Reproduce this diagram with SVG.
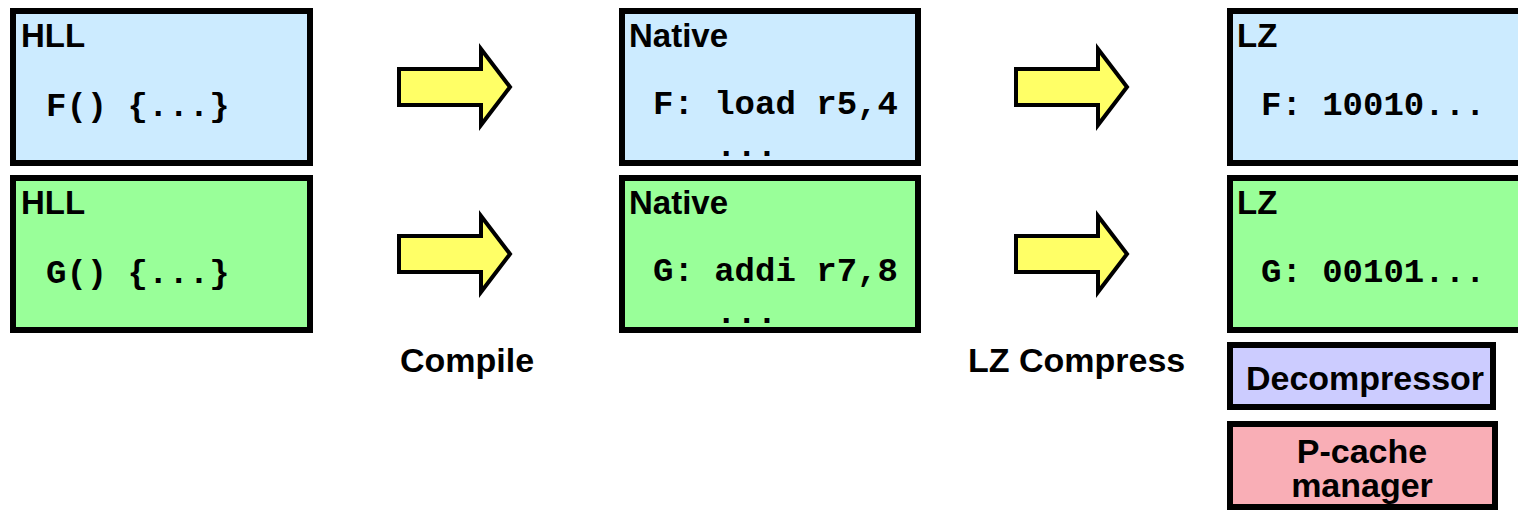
<svg xmlns="http://www.w3.org/2000/svg" width="1518" height="511" viewBox="0 0 1518 511">
<style>
.box{stroke:#000;stroke-width:6}
.blue{fill:#CCEBFF}
.green{fill:#99FF99}
.purple{fill:#CCCCFF}
.pink{fill:#F9AEB6}
.title{font-family:"Liberation Sans",Arial,sans-serif;font-weight:bold;font-size:33px;fill:#000}
.code{font-family:"Liberation Mono","Courier New",monospace;font-weight:bold;font-size:34px;fill:#000}
.label{font-family:"Liberation Sans",Arial,sans-serif;font-weight:bold;font-size:34px;fill:#000}
.arrow{fill:#FFFF66;stroke:#000;stroke-width:4;stroke-linejoin:miter}
</style>
<defs>
<polygon id="arr" points="0,0 82,0 82,-20 111,18 82,56 82,36 0,36"/>
</defs>
<g id="connectors">
<use href="#arr" class="arrow" x="399" y="69"/>
<use href="#arr" class="arrow" x="399" y="236"/>
<use href="#arr" class="arrow" x="1016" y="69"/>
<use href="#arr" class="arrow" x="1016" y="236"/>
</g>
<g id="hll-f">
<rect class="box blue" x="13" y="11" width="297" height="152"/>
<text class="title" x="21" y="47">HLL</text>
<text class="code" x="46" y="116" xml:space="preserve">F() {...}</text>
</g>
<g id="hll-g">
<rect class="box green" x="13" y="178" width="297" height="152"/>
<text class="title" x="21" y="214">HLL</text>
<text class="code" x="46" y="283" xml:space="preserve">G() {...}</text>
</g>
<g id="native-f">
<rect class="box blue" x="622" y="11" width="296" height="152"/>
<text class="title" x="629" y="47">Native</text>
<text class="code" x="653" y="114">F: load r5,4</text>
<text class="code" x="716" y="156">...</text>
</g>
<g id="native-g">
<rect class="box green" x="622" y="178" width="296" height="152"/>
<text class="title" x="629" y="214">Native</text>
<text class="code" x="653" y="281">G: addi r7,8</text>
<text class="code" x="716" y="323">...</text>
</g>
<g id="lz-f">
<rect class="box blue" x="1230" y="11" width="300" height="152"/>
<text class="title" x="1237" y="47">LZ</text>
<text class="code" x="1261" y="115">F: 10010...</text>
</g>
<g id="lz-g">
<rect class="box green" x="1230" y="178" width="300" height="152"/>
<text class="title" x="1237" y="214">LZ</text>
<text class="code" x="1261" y="282">G: 00101...</text>
</g>
<g id="decompressor">
<rect class="box purple" x="1230" y="345" width="263" height="62"/>
<text class="label" x="1365" y="390" text-anchor="middle">Decompressor</text>
</g>
<g id="pcache">
<rect class="box pink" x="1230" y="424" width="265" height="83"/>
<text class="label" x="1362" y="463" text-anchor="middle">P-cache</text>
<text class="label" x="1362" y="497" text-anchor="middle">manager</text>
</g>
<g id="labels">
<text class="label" x="400" y="372">Compile</text>
<text class="label" x="968" y="372">LZ Compress</text>
</g>
</svg>
